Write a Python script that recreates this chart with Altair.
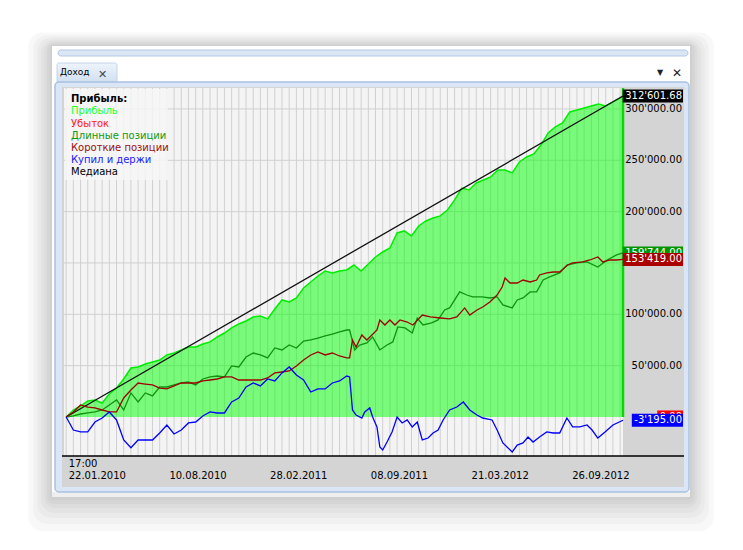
import altair as alt
import pandas as pd

# ---------------- data ----------------
profit_index = list(range(0, 780, 10)) + [774]
profit = [0, 6.8, 10.7, 15.6, 16.6, 13.6, 22.4, 28.2, 37.0, 47.7, 48.7, 51.6, 53.6, 55.5, 60.4, 62.3,
          65.3, 68.2, 68.2, 71.1, 73.1, 77.9, 81.8, 86.7, 90.6, 93.5, 97.4, 98.4, 95.5, 105.2, 114.0,
          112.0, 115.9, 125.6, 131.5, 137.3, 142.2, 140.3, 142.2, 143.2, 148.0, 142.2, 149.0, 155.8,
          160.7, 164.6, 179.2, 181.2, 176.3, 186.0, 190.9, 193.8, 195.8, 201.6, 211.4, 223.0, 221.1,
          227.9, 230.8, 233.8, 240.6, 240.6, 237.7, 248.4, 253.2, 256.2, 264.9, 276.6, 282.5, 286.4,
          297.1, 299.0, 301.0, 302.9, 304.9, 302.9, 306.8, 310.7, 312.60168]

long_index = list(range(0, 400, 10)) + [
    394, 401, 408, 418, 426, 436, 446, 454, 461, 471, 481, 488, 496, 508, 517, 526, 533, 547, 557, 565,
    578, 589, 599, 607, 620, 627, 635, 645, 654, 663, 672, 686, 696, 710, 724, 739, 752, 765, 774]
long_pos = [0, 1.0, 2.9, 3.9, 4.9, 6.8, 11.7, 16.6, 6.8, 23.4, 14.6, 23.4, 20.5, 29.2, 29.2, 31.2,
            33.1, 34.1, 31.2, 37.0, 39.0, 39.9, 39.0, 49.7, 48.7, 58.4, 62.3, 60.4, 57.5, 67.2, 65.3,
            70.1, 67.2, 74.0, 75.0, 76.9, 78.9, 80.8, 82.8, 84.7,
            84.7, 65.3, 70.1, 72.1, 77.9, 65.3, 70.1, 73.1, 87.7, 86.7, 81.8, 96.4, 89.6, 91.6, 94.5,
            104.2, 106.2, 121.8, 118.8, 116.9, 116.9, 115.9, 116.9, 109.1, 106.2, 114.0, 115.9, 121.8,
            121.8, 133.4, 136.4, 140.3, 148.0, 150.0, 151.0, 146.1, 152.9, 157.8, 159.744]

short_index = list(range(0, 400, 10)) + [
    394, 398, 403, 411, 418, 425, 432, 436, 443, 450, 457, 464, 474, 482, 495, 506, 520, 533, 543, 554,
    561, 571, 579, 589, 599, 606, 610, 617, 627, 635, 645, 654, 658, 668, 677, 686, 697, 704, 718, 728,
    739, 746, 756, 765, 774]
short_pos = [0, 4.9, 11.7, 9.7, 8.8, 6.8, 4.9, 4.9, 18.5, 26.3, 33.1, 32.1, 31.2, 28.2, 27.3, 30.2,
             33.1, 33.1, 33.1, 35.1, 36.0, 37.0, 39.0, 39.0, 36.0, 36.0, 36.0, 36.0, 38.0, 42.9, 43.8,
             44.8, 49.7, 55.5, 60.4, 63.3, 60.4, 62.3, 59.4, 57.5,
             57.5, 75.0, 68.2, 79.9, 75.0, 79.9, 84.7, 94.5, 89.6, 94.5, 89.6, 94.5, 92.5, 89.6, 99.3,
             97.4, 96.4, 95.5, 97.4, 106.2, 99.3, 104.2, 107.1, 112.0, 118.8, 126.6, 135.4, 130.5,
             130.5, 133.4, 131.5, 133.4, 138.3, 140.3, 141.2, 141.2, 148.0, 150.0, 151.0, 152.9,
             155.8, 151.0, 152.9, 152.9, 153.419]

buyhold_index = list(range(0, 400, 10)) + [
    394, 398, 403, 411, 415, 422, 426, 432, 436, 440, 446, 453, 460, 467, 474, 481, 488, 495, 503, 510,
    517, 524, 533, 543, 552, 561, 571, 579, 592, 599, 607, 620, 627, 635, 642, 649, 658, 668, 677, 686,
    696, 704, 714, 724, 731, 739, 749, 760, 774]
buy_hold = [0, -12.7, -14.6, -14.6, -4.9, -1.0, 4.9, -2.9, -22.4, -30.0, -22.4, -22.4, -22.4, -15.6,
            -7.8, -16.6, -12.7, -5.8, -4.9, 1.0, 4.9, 3.9, 3.9, 14.6, 18.5, 29.2, 33.1, 30.2, 37.0,
            35.1, 42.9, 48.7, 40.9, 36.0, 24.3, 27.3, 27.3, 33.1, 35.1, 39.9,
            39.0, 6.8, 1.9, -1.0, 4.9, 8.8, 0.0, -9.7, -29.2, -32.1, -24.4, -14.6, 0.0, -5.8, -2.9,
            -9.7, -4.9, -22.4, -20.5, -15.6, -12.7, -2.9, 6.8, 9.7, 14.6, 6.8, 1.9, -1.0, -2.9, -12.7,
            -25.3, -34.1, -27.3, -25.3, -19.5, -24.4, -19.5, -14.6, -15.6, -15.6, -1.0, -9.7, -9.7,
            -7.8, -12.7, -20.5, -14.6, -7.8, -3.195]

median_index = [0, 774]
median_vals = [0.0, 312601.68]

last_names = ["Убыток", "Купил и держи", "Длинные позиции", "Короткие позиции", "Медиана"]
last_values = [0.0, -3195.00, 159744.00, 153419.00, 312601.68]

date_ticks = [0, 140, 280, 420, 560, 700]
date_labels = ["22.01.2010", "10.08.2010", "28.02.2011", "08.09.2011", "21.03.2012", "26.09.2012"]
time_label = "17:00"
y_ticks = [50000, 100000, 150000, 200000, 250000, 300000]

legend_title = "Прибыль:"
legend_items = ["Прибыль", "Убыток", "Длинные позиции", "Короткие позиции", "Купил и держи", "Медиана"]

# ---------------- styles ----------------
COL = {"Прибыль": "#22ff22", "Убыток": "#ff1a1a", "Длинные позиции": "#119911",
       "Короткие позиции": "#9a1111", "Купил и держи": "#1a1aff", "Медиана": "#000000"}
LINE_COL = {"Длинные позиции": "#0f940f", "Короткие позиции": "#a00000", "Купил и держи": "#0000ff"}
BOX_COL = {"Убыток": "#ff0000", "Купил и держи": "#0000ff", "Длинные позиции": "#009400",
           "Короткие позиции": "#aa0000", "Медиана": "#000000"}
FONT = "DejaVu Sans"
W, H = 559, 368

assert len(profit_index) == len(profit)
assert len(long_index) == len(long_pos)
assert len(short_index) == len(short_pos)
assert len(buyhold_index) == len(buy_hold)

X = alt.Scale(domain=[-3, 774], nice=False, zero=False)
Y = alt.Scale(domain=[-38000, 320400], nice=False, zero=False)
px_per_unit = H / (320400 + 38000)

prof_df = pd.DataFrame({"idx": profit_index, "v": [v * 1000 for v in profit]})
prof_df["zero"] = 0.0

parts = []
for name, ix, vals in [("Длинные позиции", long_index, long_pos),
                       ("Короткие позиции", short_index, short_pos),
                       ("Купил и держи", buyhold_index, buy_hold)]:
    parts.append(pd.DataFrame({"idx": ix, "v": [v * 1000 for v in vals], "series": name,
                               "order": range(len(ix))}))
lines_df = pd.concat(parts, ignore_index=True)
med_df = pd.DataFrame({"idx": median_index, "v": median_vals})
one = pd.DataFrame({"a": [0]})


def prect(x1, x2, y1, y2, **kw):
    return alt.Chart(one).mark_rect(**kw).encode(
        x=alt.value(x1), x2=alt.value(x2), y=alt.value(y1), y2=alt.value(y2))


def ptext(txt, x, y, **kw):
    base = dict(font=FONT, fontSize=10, align="left", baseline="middle", color="#000")
    base.update(kw)
    return alt.Chart(one).mark_text(text=txt, **base).encode(x=alt.value(x), y=alt.value(y))


layers = []

# window shadow
for d in (34, 27, 21, 16, 11, 7, 3):
    layers.append(prect(-12 - d * 0.7, 626 + d * 0.7, -42 - d * 0.4, 409 + d,
                        color="#000", opacity=0.028, cornerRadius=min(d, 14)))
# window body
layers.append(prect(-12, 626, -42, 409, color="#ffffff"))
layers.append(prect(-12, 626, 404, 409, color="#efefef"))
# top bar of panel above
layers.append(prect(-6, 624, -38, -32, color="#dbe6f4", stroke="#b3c8e5", strokeWidth=1, cornerRadius=3))
# tab
tab_grad = alt.Gradient(gradient="linear", x1=0, x2=0, y1=0, y2=1,
                        stops=[alt.GradientStop(color="#eef4fb", offset=0),
                               alt.GradientStop(color="#cfdff1", offset=1)])
layers.append(prect(-7, 53, -25, -5, color=tab_grad, stroke="#b8cbe6", strokeWidth=0.8, cornerRadius=2))
layers.append(ptext("Доход", -4, -16, fontSize=9))
layers.append(ptext("✕", 34, -13, fontSize=11, color="#444"))
layers.append(ptext("▼", 593, -15, fontSize=8, color="#222"))
layers.append(ptext("✕", 608, -15, fontSize=12, color="#222"))
# frame and gray panel
layers.append(prect(-9, 625, -6, 404, color="#dae6f5", stroke="#a9c1e1", strokeWidth=1.5, cornerRadius=4))
layers.append(prect(-2, 620, -1, 399, color="#d4d4d4"))
# plot background
layers.append(prect(0, W, 0, H, color="#f4f4f4"))

# grid
layers.append(alt.Chart(pd.DataFrame({"idx": list(range(0, 780, 10))})).mark_rule(
    color="#d0d0d0", strokeWidth=1).encode(
    x=alt.X("idx:Q", scale=X, axis=None), y=alt.value(0), y2=alt.value(H)))
layers.append(alt.Chart(pd.DataFrame({"v": y_ticks})).mark_rule(
    color="#d0d0d0", strokeWidth=1).encode(
    y=alt.Y("v:Q", scale=Y, axis=None), x=alt.value(0), x2=alt.value(W)))

# profit area
layers.append(alt.Chart(prof_df).mark_area(color="#00ff00", opacity=0.5).encode(
    x=alt.X("idx:Q", scale=X, axis=None),
    y=alt.Y("v:Q", scale=Y, axis=None), y2="zero:Q"))
layers.append(alt.Chart(prof_df).mark_line(color="#00ee00", strokeWidth=1.5).encode(
    x=alt.X("idx:Q", scale=X, axis=None), y=alt.Y("v:Q", scale=Y, axis=None)))
# right edge marker
layers.append(alt.Chart(pd.DataFrame({"idx": [774], "top": [320400.0], "bot": [0.0]})).mark_rule(
    color="#00dd00", strokeWidth=2.5).encode(
    x=alt.X("idx:Q", scale=X, axis=None), y=alt.Y("top:Q", scale=Y, axis=None), y2="bot:Q"))

# median
layers.append(alt.Chart(med_df).mark_line(color="#111111", strokeWidth=1.3).encode(
    x=alt.X("idx:Q", scale=X, axis=None), y=alt.Y("v:Q", scale=Y, axis=None)))
# other lines
names = list(LINE_COL.keys())
layers.append(alt.Chart(lines_df).mark_line(strokeWidth=1.3).encode(
    x=alt.X("idx:Q", scale=X, axis=None),
    y=alt.Y("v:Q", scale=Y, axis=None),
    color=alt.Color("series:N", scale=alt.Scale(domain=names, range=[LINE_COL[n] for n in names]), legend=None),
    order="order:Q",
    detail="series:N"))

# legend
layers.append(prect(1, 104, 1, 92, color="#f6f6f6", opacity=0.85))
layers.append(ptext(legend_title, 7, 11, fontWeight="bold"))
for k, name in enumerate(legend_items):
    layers.append(ptext(name, 7, 23.3 + 12.2 * k, color=COL[name]))

# bottom axis line and labels
layers.append(alt.Chart(one).mark_rule(color="#000", strokeWidth=1.3).encode(
    x=alt.value(-2), x2=alt.value(620), y=alt.value(H)))
layers.append(alt.Chart(pd.DataFrame({"idx": date_ticks, "lab": date_labels})).mark_text(
    font=FONT, fontSize=10, align="left", baseline="middle", dx=2.5, color="#000").encode(
    x=alt.X("idx:Q", scale=X, axis=None), y=alt.value(388), text="lab:N"))
layers.append(alt.Chart(pd.DataFrame({"idx": [date_ticks[0]], "lab": [time_label]})).mark_text(
    font=FONT, fontSize=10, align="left", baseline="middle", dx=2.5, color="#000").encode(
    x=alt.X("idx:Q", scale=X, axis=None), y=alt.value(376), text="lab:N"))

# right axis labels
ylab = pd.DataFrame({"v": y_ticks})
ylab["lab"] = [f"{v:,.2f}".replace(",", "'") for v in y_ticks]
layers.append(alt.Chart(ylab).mark_text(
    font=FONT, fontSize=10, align="right", baseline="middle", color="#000").encode(
    x=alt.value(618), y=alt.Y("v:Q", scale=Y, axis=None), text="lab:N"))

# last-value boxes
CW = {"'": 2.75, ".": 3.18, "-": 3.6}
half = 6.5 / px_per_unit
for name, val in zip(last_names, last_values):
    txt = f"{val:,.2f}".replace(",", "'")
    w = sum(CW.get(c, 6.36) for c in txt) + 3.5
    layers.append(alt.Chart(one).mark_rect(color=BOX_COL[name]).encode(
        x=alt.value(619 - w), x2=alt.value(619),
        y=alt.Y(datum=val + half, scale=Y, axis=None), y2=alt.datum(val - half)))
    layers.append(alt.Chart(one).mark_text(
        text=txt, font=FONT, fontSize=10, align="right", baseline="middle", color="#ffffff").encode(
        x=alt.value(618), y=alt.Y(datum=val, scale=Y, axis=None)))

chart = alt.layer(*layers).properties(
    width=W, height=H,
    padding={"left": 56, "top": 80, "right": 112, "bottom": 86},
    autosize=alt.AutoSizeParams(type="none"),
).configure_view(stroke=None)

chart.save("out.html", embed_options={"renderer": "svg", "actions": False})
